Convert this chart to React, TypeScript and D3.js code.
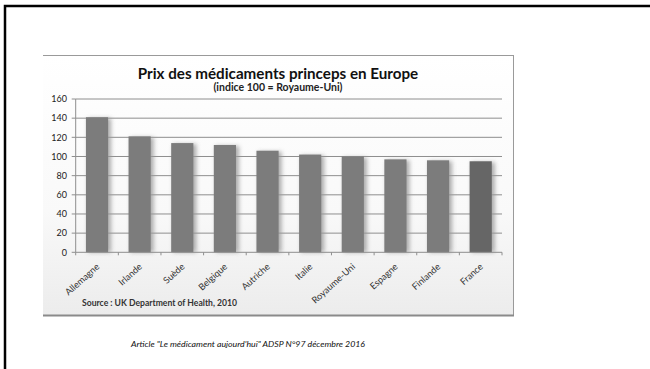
import React from "react";
import * as d3 from "d3";

const categories = ["Allemagne", "Irlande", "Suède", "Belgique", "Autriche", "Italie", "Royaume-Uni", "Espagne", "Finlande", "France"];
const values = [141, 121, 114, 112, 106, 102, 100, 97, 96, 95];
const yTicks = [0, 20, 40, 60, 80, 100, 120, 140, 160];
const title = "Prix des médicaments princeps en Europe";
const subtitle = "(indice 100 = Royaume-Uni)";
const sourceText = "Source :  UK Department of Health, 2010";
const caption = "Article \"Le médicament aujourd'hui\" ADSP N°97 décembre 2016";

export default function App() {
  const W = 650, H = 369;
  const x0 = 75.7, x1 = 502;
  const x = d3.scaleBand<string>().domain(categories).range([x0, x1]).paddingInner(0.48).paddingOuter(0.24);
  const y = d3.scaleLinear().domain([0, 160]).range([252.3, 99]);
  const step = x.step();
  const font = "Lato, 'Open Sans', sans-serif";

  return (
    <svg width={W} height={H} style={{ position: "absolute", left: 0, top: 0, background: "#fff" }} fontFamily={font}>
      <defs>
        <linearGradient id="bg" x1="0" y1="0" x2="0" y2="1">
          <stop offset="0" stopColor="#ffffff" />
          <stop offset="0.6" stopColor="#f9f9f9" />
          <stop offset="1" stopColor="#ececec" />
        </linearGradient>
        <filter id="shadow" x="-50%" y="-10%" width="200%" height="120%">
          <feGaussianBlur stdDeviation="2" />
        </filter>
      </defs>
      {/* slide frame */}
      <rect x={5} y={6} width={700} height={420} fill="none" stroke="#000" strokeWidth={2.5} />
      {/* chart picture box */}
      <rect x={43} y={55} width={471} height={260} fill="url(#bg)" />
      <line x1={43} x2={514} y1={55.5} y2={55.5} stroke="#9a9a9a" strokeWidth={1} />
      <line x1={513.5} x2={513.5} y1={55} y2={316} stroke="#9a9a9a" strokeWidth={1} />
      <line x1={43} x2={514} y1={315.5} y2={315.5} stroke="#8a8a8a" strokeWidth={2} />

      <text x={278} y={79} textAnchor="middle" fontWeight="bold" fontSize={15.2} fill="#111">{title}</text>
      <text x={278} y={91} textAnchor="middle" fontWeight="bold" fontSize={10.5} fill="#222">{subtitle}</text>

      {/* gridlines */}
      {yTicks.map((t) => (
        <g key={t}>
          {t > 0 && <line x1={x0} x2={x1} y1={y(t)} y2={y(t)} stroke="#8e8e8e" strokeWidth={1} />}
          <line x1={x0 - 4} x2={x0} y1={y(t)} y2={y(t)} stroke="#8e8e8e" strokeWidth={1} />
          <text x={67} y={y(t) + 3.2} textAnchor="end" fontSize={9} fill="#222">{t}</text>
        </g>
      ))}

      {/* bars */}
      {categories.map((c, i) => (
        <g key={c}>
          <rect x={(x(c) as number) + 2} y={y(values[i]) + 1} width={x.bandwidth() + 1} height={y(0) - y(values[i]) - 1} fill="#999" opacity={0.8} filter="url(#shadow)" />
          <rect x={x(c)} y={y(values[i])} width={x.bandwidth()} height={y(0) - y(values[i])} fill={c === "France" ? "#666666" : "#7c7c7c"} />
        </g>
      ))}

      {/* axes */}
      <line x1={x0} x2={x0} y1={y(160)} y2={y(0)} stroke="#8e8e8e" strokeWidth={1} />
      <line x1={x0} x2={x1} y1={y(0)} y2={y(0)} stroke="#8e8e8e" strokeWidth={1} />
      {d3.range(categories.length + 1).map((i) => (
        <line key={i} x1={x0 + i * step} x2={x0 + i * step} y1={y(0)} y2={y(0) + 3} stroke="#8e8e8e" strokeWidth={1} />
      ))}

      {categories.map((c) => {
        const cx = (x(c) as number) + x.bandwidth() / 2 + 3;
        const cy = 267.5;
        return (
          <text key={c} x={cx} y={cy} textAnchor="end" fontSize={9.2} fill="#333" transform={`rotate(-42 ${cx} ${cy})`}>{c}</text>
        );
      })}

      <text x={82} y={306} fontSize={8.5} fontWeight="bold" fill="#333" textLength={155} lengthAdjust="spacingAndGlyphs">{sourceText}</text>

      <text x={248} y={346.5} textAnchor="middle" fontStyle="italic" fontSize={8.5} fill="#111" textLength={234} lengthAdjust="spacingAndGlyphs">{caption}</text>
    </svg>
  );
}
